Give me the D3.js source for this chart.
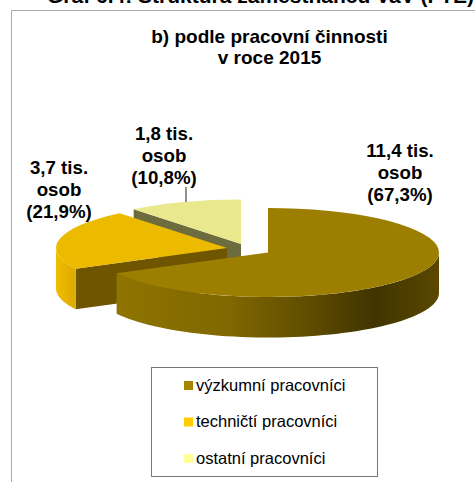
<!DOCTYPE html>
<html>
<head>
<meta charset="utf-8">
<script src="https://cdn.jsdelivr.net/npm/d3@7"></script>
<style>
    html, body { margin: 0; padding: 0; background: #fff; overflow: hidden; }
    text { font-family: "Liberation Sans", Arial, sans-serif; fill: #000; }
    .label, .chart-title { font-weight: bold; text-anchor: middle; }
    .heading { font-weight: bold; }
</style>
</head>
<body>
<svg width="475" height="482"></svg>
<script>
// data
const categories = ['výzkumní pracovníci', 'techničtí pracovníci', 'ostatní pracovníci'],
    shares = [67.3, 21.9, 10.8],
    labelLines = [
        ['11,4 tis.', 'osob', '(67,3%)'],
        ['3,7 tis.', 'osob', '(21,9%)'],
        ['1,8 tis.', 'osob', '(10,8%)']
    ],
    titleLines = ['b) podle pracovní činnosti', 'v roce 2015'],
    heading = 'Graf 6.4: Struktura zaměstnanců VaV (FTE)';

const RX = 171, RY = 44.5, DEPTH = 40.5;

var svg = d3.select('svg');

var color = d3.scaleOrdinal().domain(categories).range(['#9c7f00', '#ecbb00', '#e9e88c']),
    legendColor = d3.scaleOrdinal().domain(categories).range(['#a58400', '#ffcc00', '#ffff99']),
    cutColor = d3.scaleOrdinal().domain(categories).range(['#5f4d00', '#6f5500', '#6c6c3e']);

// each slice is pulled out of the pie on its own
var centers = [[268, 252.5], [227, 248], [241, 244]];

var defs = svg.append('defs');

var wallMain = defs.append('linearGradient')
    .attr('id', 'wall0').attr('gradientUnits', 'userSpaceOnUse')
    .attr('x1', 116).attr('x2', 439).attr('y1', 0).attr('y2', 0);
[[0, '#8f7400'], [0.35, '#806700'], [0.6, '#5f4c00'], [0.8, '#413400'], [1, '#5a4800']].forEach(function(s) {
    wallMain.append('stop').attr('offset', s[0]).attr('stop-color', s[1]);
});

var wallTech = defs.append('linearGradient')
    .attr('id', 'wall1').attr('gradientUnits', 'userSpaceOnUse')
    .attr('x1', 56).attr('x2', 76).attr('y1', 0).attr('y2', 0);
wallTech.append('stop').attr('offset', 0).attr('stop-color', '#f0bd00');
wallTech.append('stop').attr('offset', 1).attr('stop-color', '#dca900');

// frame, cut off by the window on the right and bottom
svg.append('path')
    .attr('d', d3.line()([[11.5, 482], [11.5, 10.5], [475, 10.5]]))
    .attr('fill', 'none')
    .attr('stroke', '#aaa')
    .attr('stroke-width', 1);

svg.append('text')
    .attr('class', 'heading')
    .attr('x', 47)
    .attr('y', 3)
    .style('font-size', '21px')
    .text(heading);

svg.selectAll('.chart-title')
    .data(titleLines)
    .enter().append('text')
    .attr('class', 'chart-title')
    .attr('x', 269.5)
    .attr('y', function(d, i) { return 43 + i * 21; })
    .style('font-size', '19px')
    .text(function(d) { return d; });

var pie = d3.pie().sort(null).value(function(d) { return d; });
var slices = pie(shares);

var arc = d3.arc().innerRadius(0).outerRadius(RX);

function rimPoint(c, a) {
    return [c[0] + RX * Math.sin(a), c[1] - RY * Math.cos(a)];
}

// outer wall between two angles, followed back along the lower rim
function wallPath(c, a0, a1) {
    var top = d3.range(0, 61).map(function(k) { return rimPoint(c, a0 + (a1 - a0) * k / 60); }),
        bottom = top.slice().reverse().map(function(p) { return [p[0], p[1] + DEPTH]; });
    return d3.line()(top.concat(bottom)) + 'Z';
}

function cutPath(c, a) {
    var p = rimPoint(c, a);
    return d3.line()([c, p, [p[0], p[1] + DEPTH], [c[0], c[1] + DEPTH]]) + 'Z';
}

// back to front: other, technical, research
[2, 1, 0].forEach(function(i) {
    var s = slices[i],
        c = centers[i],
        g = svg.append('g');

    if (i > 0) {
        g.append('path')
            .attr('d', cutPath(c, s.startAngle))
            .attr('fill', cutColor(categories[i]));
    }

    // only the part of the rim that faces the viewer gets a wall
    var from = Math.max(s.startAngle, Math.PI / 2),
        to = Math.min(s.endAngle, Math.PI * 3 / 2);
    if (from < to) {
        g.append('path')
            .attr('d', wallPath(c, from, to))
            .attr('fill', 'url(#wall' + i + ')');
    }

    g.append('path')
        .attr('transform', 'translate(' + c[0] + ',' + c[1] + ') scale(1,' + (RY / RX) + ')')
        .attr('d', arc(s))
        .attr('fill', color(categories[i]));
});

// data labels
var labelPos = [[400, 157], [59, 174], [164, 140]];

labelLines.forEach(function(lines, i) {
    svg.selectAll('.label-' + i)
        .data(lines)
        .enter().append('text')
        .attr('class', 'label label-' + i)
        .attr('x', labelPos[i][0])
        .attr('y', function(d, k) { return labelPos[i][1] + k * 22; })
        .style('font-size', '18.7px')
        .text(function(d) { return d; });
});

// leader line of the small slice
svg.append('line')
    .attr('x1', 186).attr('x2', 186)
    .attr('y1', 187).attr('y2', 202)
    .attr('stroke', '#222')
    .attr('stroke-width', 1);

// legend
svg.append('rect')
    .attr('x', 151.5).attr('y', 367.5)
    .attr('width', 226).attr('height', 109)
    .attr('fill', '#fff')
    .attr('stroke', '#777')
    .attr('stroke-width', 1);

var legendY = d3.scalePoint().domain(categories).range([385.5, 458.5]);

var legend = svg.selectAll('.legend')
    .data(categories)
    .enter().append('g')
    .attr('class', 'legend')
    .attr('transform', function(d) { return 'translate(184,' + legendY(d) + ')'; });

legend.append('rect')
    .attr('y', -4.5)
    .attr('width', 9)
    .attr('height', 9)
    .attr('fill', function(d) { return legendColor(d); });

legend.append('text')
    .attr('x', 12)
    .attr('y', 5)
    .style('font-size', '16.5px')
    .text(function(d) { return d; });
</script>
</body>
</html>
